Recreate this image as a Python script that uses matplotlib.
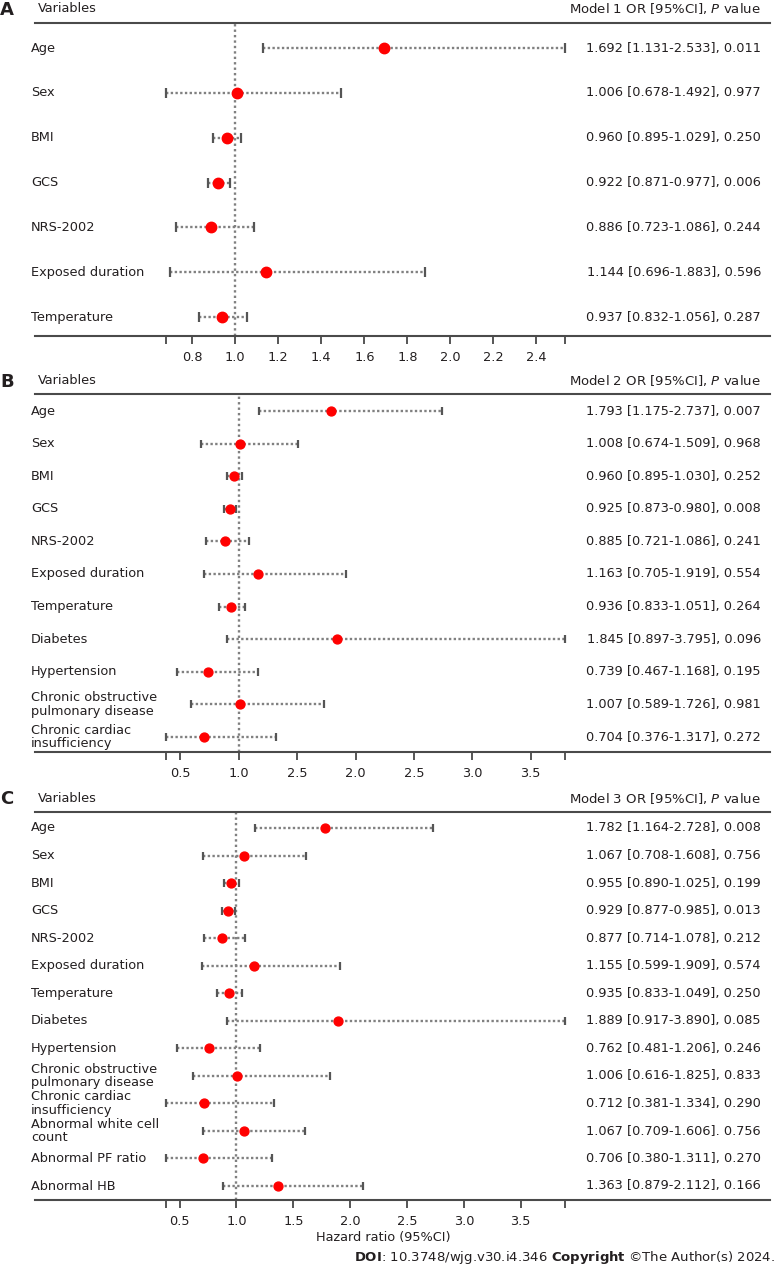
import matplotlib
matplotlib.use("Agg")
import matplotlib.pyplot as plt
from matplotlib.lines import Line2D
from matplotlib.transforms import blended_transform_factory

plt.rcParams['font.family'] = ['DejaVu Sans']
plt.rcParams['mathtext.fontset'] = 'dejavusans'

# ---------------- data ----------------
vars_a = ["Age", "Sex", "BMI", "GCS", "NRS-2002", "Exposed duration", "Temperature"]
or_a = [1.692, 1.006, 0.960, 0.922, 0.886, 1.144, 0.937]
lo_a = [1.131, 0.678, 0.895, 0.871, 0.723, 0.696, 0.832]
hi_a = [2.533, 1.492, 1.029, 0.977, 1.086, 1.883, 1.056]
txt_a = ["1.692 [1.131-2.533], 0.011", "1.006 [0.678-1.492], 0.977",
         "0.960 [0.895-1.029], 0.250", "0.922 [0.871-0.977], 0.006",
         "0.886 [0.723-1.086], 0.244", "1.144 [0.696-1.883], 0.596",
         "0.937 [0.832-1.056], 0.287"]
ticks_a = [0.8, 1.0, 1.2, 1.4, 1.6, 1.8, 2.0, 2.2, 2.4]
ticklabels_a = ["0.8", "1.0", "1.2", "1.4", "1.6", "1.8", "2.0", "2.2", "2.4"]

vars_b = ["Age", "Sex", "BMI", "GCS", "NRS-2002", "Exposed duration", "Temperature",
          "Diabetes", "Hypertension", "Chronic obstructive\npulmonary disease",
          "Chronic cardiac\ninsufficiency"]
or_b = [1.793, 1.008, 0.960, 0.925, 0.885, 1.163, 0.936, 1.845, 0.739, 1.007, 0.704]
lo_b = [1.175, 0.674, 0.895, 0.873, 0.721, 0.705, 0.833, 0.897, 0.467, 0.589, 0.376]
hi_b = [2.737, 1.509, 1.030, 0.980, 1.086, 1.919, 1.051, 3.795, 1.168, 1.726, 1.317]
txt_b = ["1.793 [1.175-2.737], 0.007", "1.008 [0.674-1.509], 0.968",
         "0.960 [0.895-1.030], 0.252", "0.925 [0.873-0.980], 0.008",
         "0.885 [0.721-1.086], 0.241", "1.163 [0.705-1.919], 0.554",
         "0.936 [0.833-1.051], 0.264", "1.845 [0.897-3.795], 0.096",
         "0.739 [0.467-1.168], 0.195", "1.007 [0.589-1.726], 0.981",
         "0.704 [0.376-1.317], 0.272"]
ticks_b = [0.5, 1.0, 1.5, 2.0, 2.5, 3.0, 3.5]
ticklabels_b = ["0.5", "1.0", "2.5", "2.0", "2.5", "3.0", "3.5"]

vars_c = ["Age", "Sex", "BMI", "GCS", "NRS-2002", "Exposed duration", "Temperature",
          "Diabetes", "Hypertension", "Chronic obstructive\npulmonary disease",
          "Chronic cardiac\ninsufficiency", "Abnormal white cell\ncount",
          "Abnormal PF ratio", "Abnormal HB"]
or_c = [1.782, 1.067, 0.955, 0.929, 0.877, 1.155, 0.935, 1.889, 0.762, 1.006, 0.712,
        1.067, 0.706, 1.363]
lo_c = [1.164, 0.708, 0.890, 0.877, 0.714, 0.699, 0.833, 0.917, 0.481, 0.616, 0.381,
        0.709, 0.380, 0.879]
hi_c = [2.728, 1.608, 1.025, 0.985, 1.078, 1.909, 1.049, 3.890, 1.206, 1.825, 1.334,
        1.606, 1.311, 2.112]
txt_c = ["1.782 [1.164-2.728], 0.008", "1.067 [0.708-1.608], 0.756",
         "0.955 [0.890-1.025], 0.199", "0.929 [0.877-0.985], 0.013",
         "0.877 [0.714-1.078], 0.212", "1.155 [0.599-1.909], 0.574",
         "0.935 [0.833-1.049], 0.250", "1.889 [0.917-3.890], 0.085",
         "0.762 [0.481-1.206], 0.246", "1.006 [0.616-1.825], 0.833",
         "0.712 [0.381-1.334], 0.290", "1.067 [0.709-1.606]. 0.756",
         "0.706 [0.380-1.311], 0.270", "1.363 [0.879-2.112], 0.166"]
ticks_c = [0.5, 1.0, 1.5, 2.0, 2.5, 3.0, 3.5]
ticklabels_c = ["0.5", "1.0", "1.5", "2.0", "2.5", "3.0", "3.5"]

# ---------------- layout ----------------
W, H = 777, 1271
fig = plt.figure(figsize=(W / 100, H / 100), dpi=100)
fig.patch.set_facecolor("white")

TXT = "#231f20"
FS = 9.3
LINEC = "#4a4a4a"
CIC = "#808080"
CAPC = "#555555"


def fx(px):
    return px / W


def fy(py):
    return 1 - py / H


panels = [
    dict(letter="A", model="Model 1", vars=vars_a, orv=or_a, lo=lo_a, hi=hi_a, txt=txt_a,
         ticks=ticks_a, tl=ticklabels_a, header=23.3, axis=336, first=48, last=317,
         ty=9, ms=7.5, cap=7),
    dict(letter="B", model="Model 2", vars=vars_b, orv=or_b, lo=lo_b, hi=hi_b, txt=txt_b,
         ticks=ticks_b, tl=ticklabels_b, header=394, axis=752, first=411, last=737,
         ty=381, ms=6.4, cap=6),
    dict(letter="C", model="Model 3", vars=vars_c, orv=or_c, lo=lo_c, hi=hi_c, txt=txt_c,
         ticks=ticks_c, tl=ticklabels_c, header=811.7, axis=1200, first=828, last=1186,
         ty=798, ms=6.4, cap=6),
]

X0, X1 = 166, 565  # data range pixel extent
LX0, LX1 = 35, 770  # rule lines extent

for p in panels:
    n = len(p["vars"])
    ax = fig.add_axes([fx(X0), fy(p["axis"]), fx(X1 - X0), (p["axis"] - p["header"]) / H])
    s = (p["last"] - p["first"]) / (n - 1)
    top = -(p["first"] - p["header"]) / s
    bot = (n - 1) + (p["axis"] - p["last"]) / s
    ax.set_ylim(bot, top)
    xmin = min(p["lo"])
    xmax = max(p["hi"])
    ax.set_xlim(xmin, xmax)
    for sp in ax.spines.values():
        sp.set_visible(False)
    ax.set_yticks([])
    ax.set_facecolor("none")

    ax.axvline(1.0, color=CIC, lw=1.7, ls=(0, (1, 1.3)), zorder=1)

    ys = list(range(n))
    ax.hlines(ys, p["lo"], p["hi"], colors=CIC, lw=1.7, linestyles=(0, (1, 1)), zorder=2,
              clip_on=False)
    ax.plot(p["lo"], ys, ls="none", marker="|", ms=p["cap"], mew=1.6, color=CAPC,
            clip_on=False, zorder=3)
    ax.plot(p["hi"], ys, ls="none", marker="|", ms=p["cap"], mew=1.6, color=CAPC,
            clip_on=False, zorder=3)
    ax.plot(p["orv"], ys, ls="none", marker="o", ms=p["ms"], color="#ff0000",
            mec="#ff0000", clip_on=False, zorder=4)

    tick_pos = [xmin] + p["ticks"] + [xmax]
    tick_lab = [""] + p["tl"] + [""]
    ax.set_xticks(tick_pos)
    ax.set_xticklabels(tick_lab)
    ax.tick_params(axis="x", direction="out", length=6, width=1.4, color=CAPC, pad=5,
                   labelsize=FS, labelcolor=TXT)

    tr = blended_transform_factory(fig.transFigure, ax.transData)
    for i, (v, t) in enumerate(zip(p["vars"], p["txt"])):
        ax.text(fx(31), i, v, transform=tr, ha="left", va="center", fontsize=FS,
                color=TXT, linespacing=1.05)
        ax.text(fx(761), i, t, transform=tr, ha="right", va="center", fontsize=FS,
                color=TXT)

    # rule lines
    fig.add_artist(Line2D([fx(LX0), fx(LX1)], [fy(p["header"])] * 2, color=LINEC, lw=1.5))
    fig.add_artist(Line2D([fx(LX0), fx(LX1)], [fy(p["axis"])] * 2, color=LINEC, lw=1.5))

    # header texts
    fig.text(fx(0), fy(p["ty"] + 1), p["letter"], ha="left", va="center", fontsize=13,
             fontweight="bold", color=TXT)
    fig.text(fx(38), fy(p["ty"]), "Variables", ha="left", va="center", fontsize=FS,
             color=TXT)
    fig.text(fx(761), fy(p["ty"]), p["model"] + r" OR [95%CI], $\mathit{P}$ value",
             ha="right", va="center", fontsize=9.5, color=TXT)

fig.text(fx(383), fy(1238), "Hazard ratio (95%CI)", ha="center", va="center",
         fontsize=FS, color=TXT)
fig.text(fx(775), fy(1258),
         r"$\mathbf{DOI}$: 10.3748/wjg.v30.i4.346 $\mathbf{Copyright}$ ©The Author(s) 2024.",
         ha="right", va="center", fontsize=9.5, color=TXT)

fig.savefig("out.png", dpi=100, facecolor="white")
